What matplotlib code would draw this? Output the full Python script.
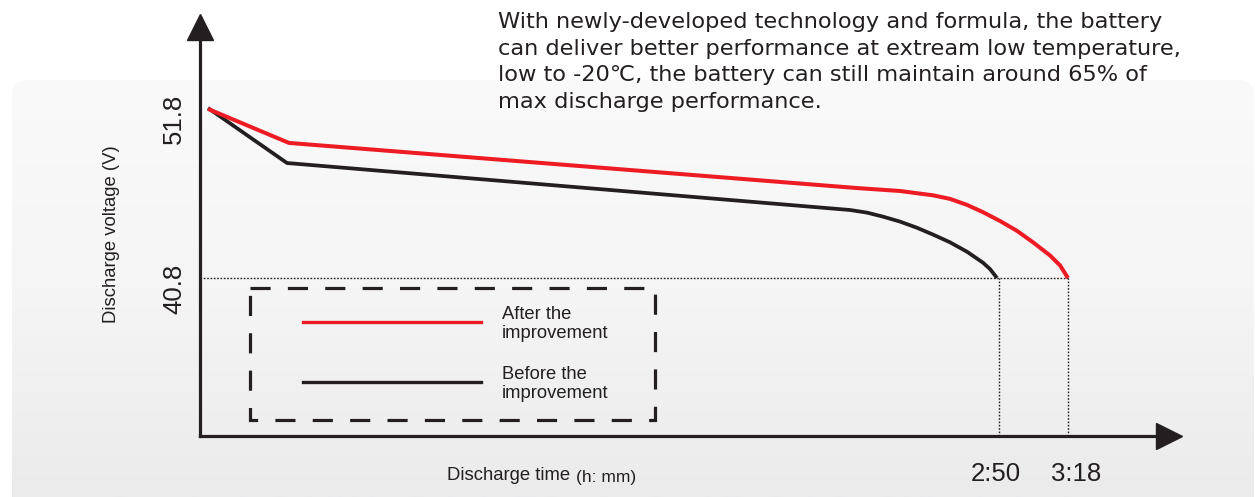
import numpy as np
import matplotlib
matplotlib.use("Agg")
import matplotlib.pyplot as plt
import matplotlib.transforms as mtransforms
from matplotlib.patches import FancyBboxPatch, Rectangle
from matplotlib.lines import Line2D
from matplotlib.colors import LinearSegmentedColormap

# ---------------- data ----------------
# x: schematic discharge-time position (axis has no linear scale in the original)
after_x = [0.8, 8.9, 65.7, 70.0, 73.3, 75.0, 76.7, 78.3, 80.0, 81.7, 83.3, 85.0, 86.0, 86.8]
after_v = [51.74, 49.54, 46.62, 46.43, 46.15, 45.92, 45.53, 45.06, 44.49, 43.85,
           43.11, 42.26, 41.62, 40.8]
before_x = [0.8, 8.7, 65.0, 66.7, 68.3, 70.0, 71.7, 73.3, 75.0, 76.7, 78.3, 79.0, 79.7]
before_v = [51.8, 48.24, 45.2, 45.03, 44.77, 44.45, 44.05, 43.61, 43.11, 42.50,
            41.79, 41.38, 40.8]

end_times = [79.9, 86.8]
time_labels = ["2:50", "3:18"]
volt_ticks = [51.8, 40.8]
volt_labels = ["51.8", "40.8"]
cutoff_v = 40.8

series_labels = ["After the\nimprovement", "Before the\nimprovement"]
paragraph = [
    "With newly-developed technology and formula, the battery",
    "can deliver better performance at extream low temperature,",
    "low to -20\u2103, the battery can still maintain around 65% of",
    "max discharge performance.",
]

RED = "#ed1c24"
INK = "#231f20"
FONT = ["Liberation Sans", "DejaVu Sans"]
PARA_FONT = ["DejaVu Sans"]
plt.rcParams["font.family"] = FONT

W, H, DPI = 1255, 497, 100
fig = plt.figure(figsize=(W / DPI, H / DPI), dpi=DPI)
fig.patch.set_facecolor("white")

# ---------- background panel (pixel coords) ----------
bg = fig.add_axes([0, 0, 1, 1], zorder=0)
bg.set_xlim(0, W)
bg.set_ylim(H, 0)
bg.axis("off")
panel = FancyBboxPatch((12, 80), 1242, 460, boxstyle="round,pad=0,rounding_size=16",
                       transform=bg.transData, facecolor="none", edgecolor="none")
bg.add_patch(panel)
grad = np.linspace(0, 1, 256)[:, None]
cmap = LinearSegmentedColormap.from_list("g", ["#fafafa", "#f5f5f5", "#ebebec"])
im = bg.imshow(grad, cmap=cmap, extent=(12, 1254, 497, 80), aspect="auto", zorder=0)
im.set_clip_path(panel)

# ---------- main axes ----------
px = lambda x: x / W
py = lambda y: 1 - y / H
ax_l, ax_r, ax_b, ax_t = 200, 1158, 436, 40
ax = fig.add_axes([px(ax_l), py(ax_b), px(ax_r - ax_l), py(ax_t) - py(ax_b)], zorder=2)
ax.set_facecolor("none")
ax.set_xlim(0, (ax_r - ax_l) / 10)
vs = 15.4545
ax.set_ylim(51.8 - (ax_b - 108) / vs, 51.8 + (108 - ax_t) / vs)

for s in ["top", "right"]:
    ax.spines[s].set_visible(False)
for s in ["left", "bottom"]:
    ax.spines[s].set_linewidth(2.3)
    ax.spines[s].set_color(INK)
    ax.spines[s].set_capstyle("projecting")

# arrow heads
ax.plot([0], [51.8 + (108 - 27) / vs], marker="^", ms=19, color=INK, clip_on=False, zorder=5)
ax.plot([(1169 - 200) / 10], [ax.get_ylim()[0]], marker=">", ms=19, color=INK,
        clip_on=False, zorder=5)

# ticks
ax.set_xticks(end_times, time_labels)
ax.set_yticks(volt_ticks, volt_labels, rotation=90)
ax.tick_params(axis="both", length=0, labelsize=18.5, colors=INK)
ax.tick_params(axis="x", pad=19)
ax.tick_params(axis="y", pad=10)
for lab in ax.get_yticklabels():
    lab.set_verticalalignment("center")
    lab.set_transform(lab.get_transform() +
                      mtransforms.ScaledTranslation(0, -11 / DPI, fig.dpi_scale_trans))
for lab, dx in zip(ax.get_xticklabels(), [-3, 8]):
    lab.set_transform(lab.get_transform() +
                      mtransforms.ScaledTranslation(dx / DPI, 0, fig.dpi_scale_trans))

# dotted guide lines
ax.plot([0, end_times[1]], [cutoff_v, cutoff_v], ls=(0, (1.2, 1.2)), lw=1.0, color=INK, zorder=1)
for t in end_times:
    ax.plot([t, t], [ax.get_ylim()[0], cutoff_v], ls=(0, (1.2, 1.2)), lw=1.0, color=INK, zorder=1)

# curves
ax.plot(after_x, after_v, color=RED, lw=2.9, solid_joinstyle="round", solid_capstyle="butt", zorder=4)
ax.plot(before_x, before_v, color=INK, lw=2.7, solid_joinstyle="round", solid_capstyle="butt", zorder=3)

# ---------- overlay (pixel coords) for texts & legend ----------
ov = fig.add_axes([0, 0, 1, 1], zorder=3)
ov.set_xlim(0, W)
ov.set_ylim(H, 0)
ov.axis("off")
ov.set_facecolor("none")

# axis titles
ov.text(111, 234, "Discharge voltage (V)", rotation=90, ha="center", va="center",
        fontsize=13.3, color=INK)
ov.text(447, 480, "Discharge time", ha="left", va="baseline", fontsize=13.3, color=INK)
ov.text(576, 482, "(h: mm)", ha="left", va="baseline", fontsize=12.5, color=INK)

# paragraph
for i, line in enumerate(paragraph):
    ov.text(498, 28 + i * 26.7, line, ha="left", va="baseline", fontsize=16.2, color=INK,
            family=PARA_FONT)

# legend
ov.add_patch(Rectangle((250, 288), 405, 132, fill=False, lw=2.3, ec=INK,
                       ls=(0, (6.3, 5.4)), zorder=5))
for (yc, col, lab) in [(322, RED, series_labels[0]), (382, INK, series_labels[1])]:
    ov.add_line(Line2D([303, 481], [yc, yc], color=col, lw=2.4))
    ov.text(502, yc + 2, lab, ha="left", va="center", fontsize=13.2, color=INK, linespacing=1.1)

fig.savefig("out.png", dpi=DPI)
